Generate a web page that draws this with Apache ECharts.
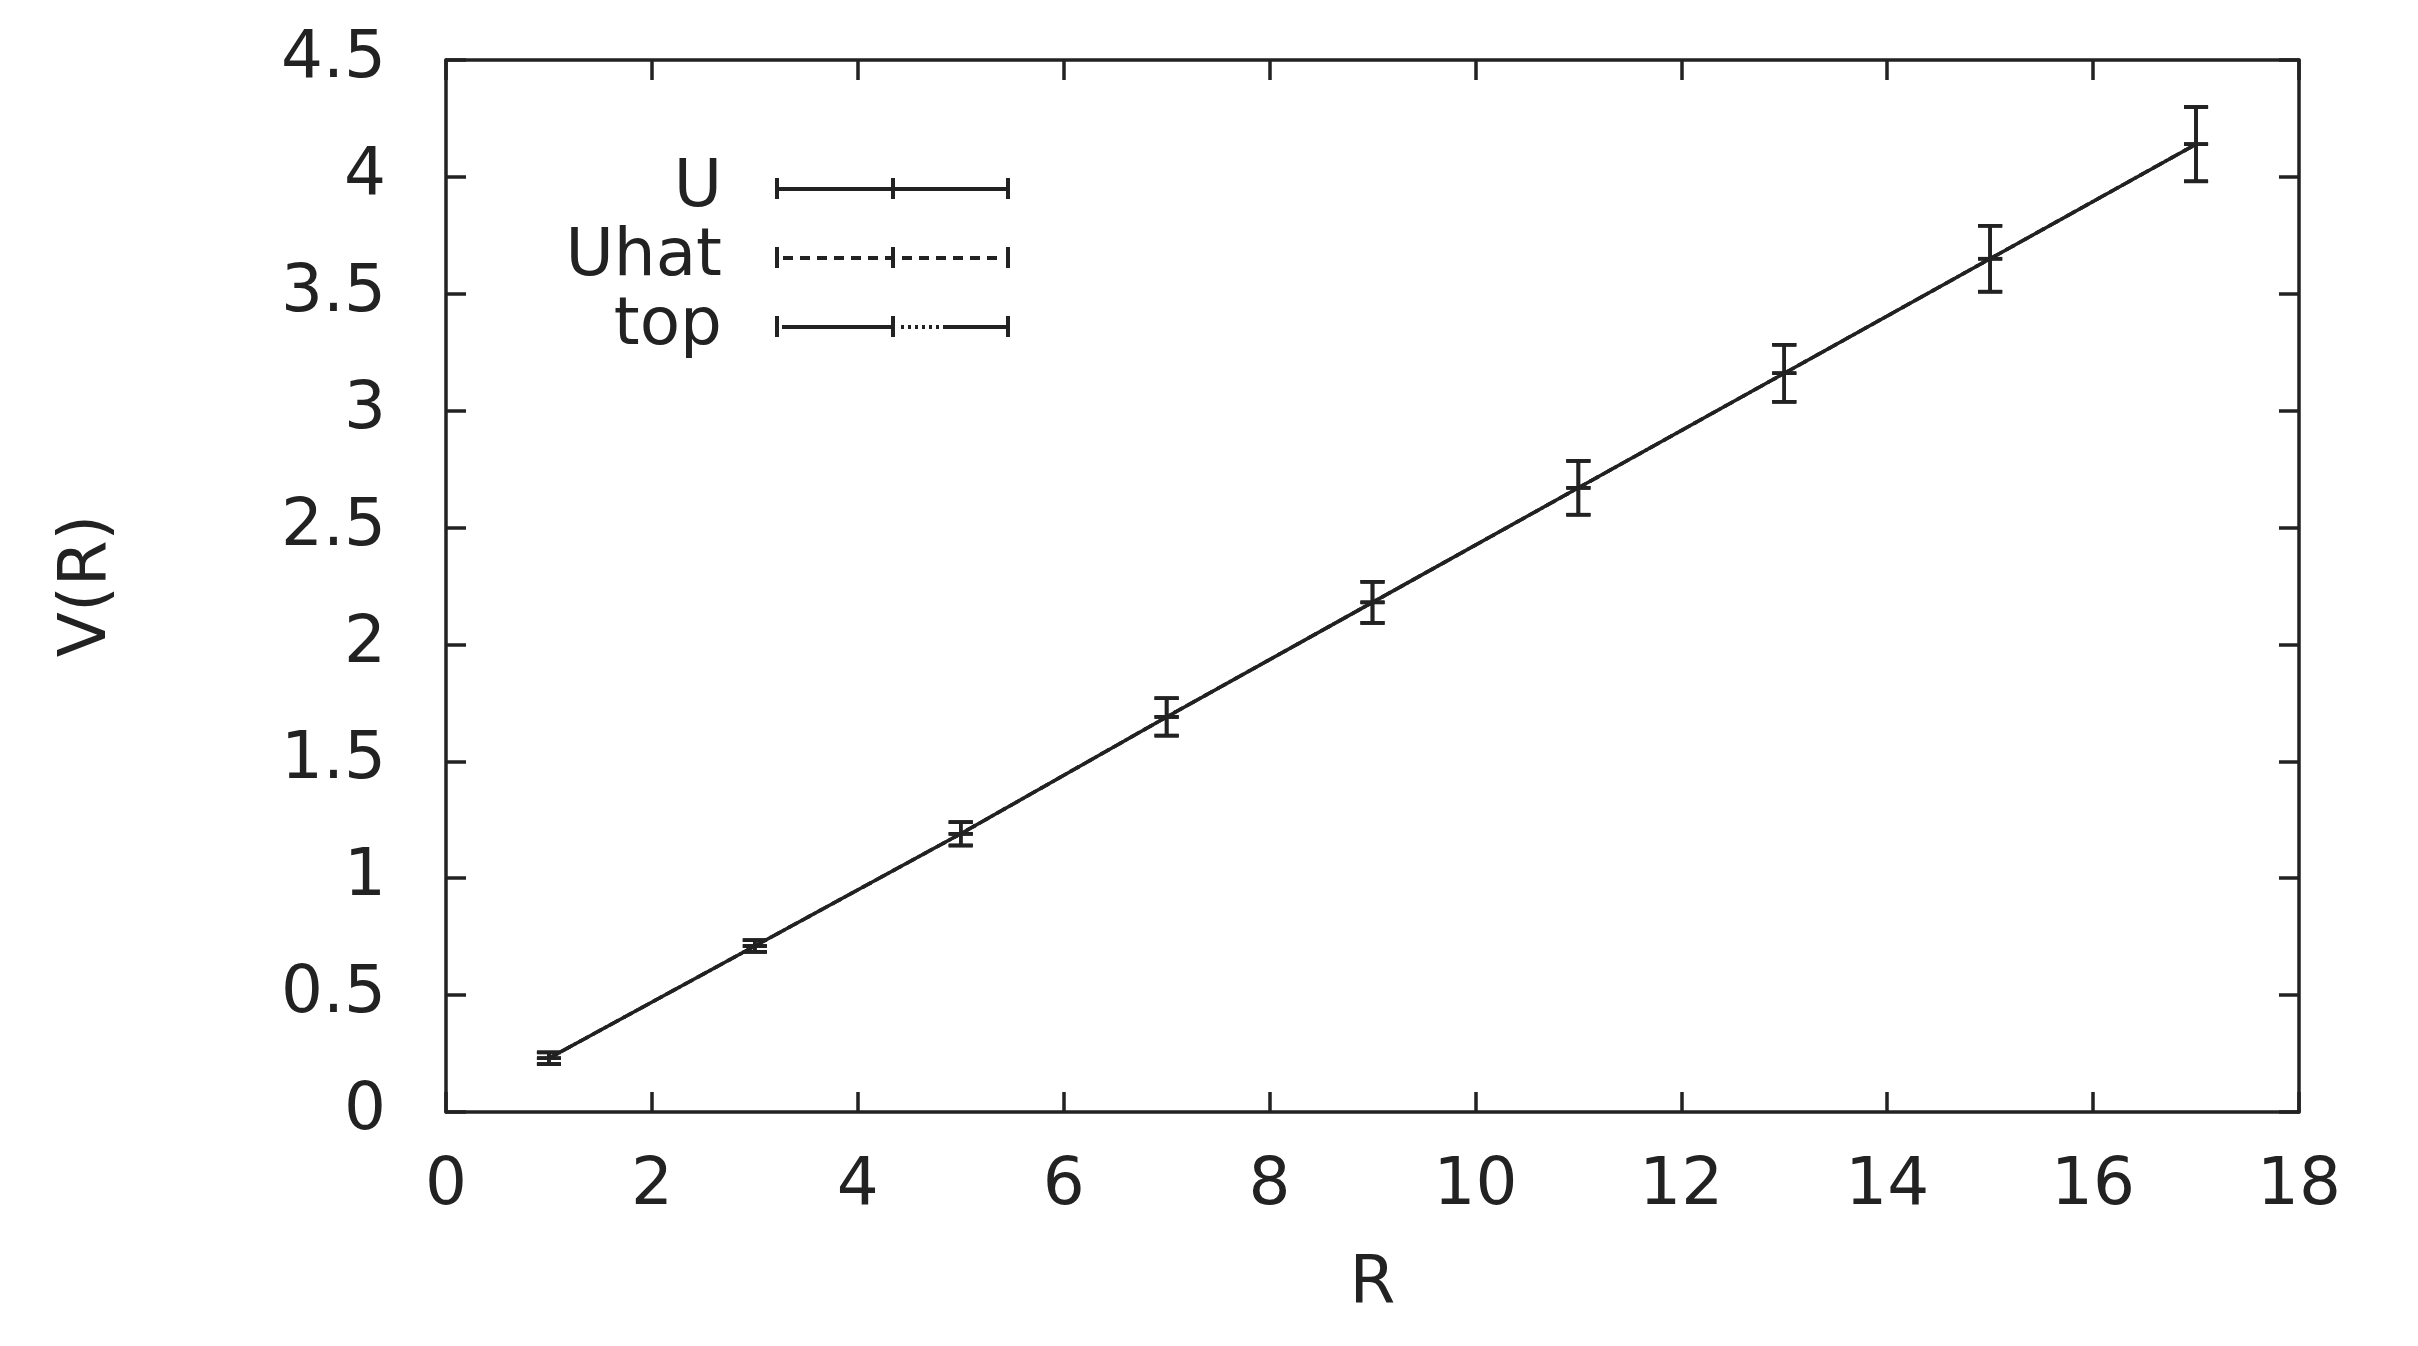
<!DOCTYPE html>
<html>
<head>
<meta charset="utf-8">
<title>V(R)</title>
<script src="https://cdn.jsdelivr.net/npm/echarts@6/dist/echarts.min.js"></script>
<style>
  html, body { margin: 0; padding: 0; background: #fff; }
  #chart { width: 2418px; height: 1346px; }
</style>
</head>
<body>
<div id="chart"></div>
<script>
// Data
const rValues = [1, 3, 5, 7, 9, 11, 13, 15, 17];
const uValues = [0.23, 0.71, 1.19, 1.69, 2.18, 2.67, 3.16, 3.65, 4.14];
const uErrors = [0.025, 0.025, 0.05, 0.08, 0.088, 0.115, 0.122, 0.141, 0.159];
const uhatValues = [0.23, 0.71, 1.19, 1.69, 2.18, 2.67, 3.16, 3.65, 4.14];
const uhatErrors = [0.025, 0.025, 0.05, 0.08, 0.088, 0.115, 0.122, 0.141, 0.159];
const topValues = [0.23, 0.71, 1.19, 1.69, 2.18, 2.67, 3.16, 3.65, 4.14];
const topErrors = [0.025, 0.025, 0.05, 0.08, 0.088, 0.115, 0.122, 0.141, 0.159];
const seriesNames = ['U', 'Uhat', 'top'];

const INK = '#222';
const FONT = '"DejaVu Sans", Verdana, sans-serif';

// gnuplot-like legend samples: |----+----|
const rect = (x, y, w, h) => `M${x} ${y}h${w}v${h}h${-w}Z`;
const caps = rect(0, 0, 4, 21) + rect(116, 0, 4, 21) + rect(231, 0, 4, 21);
let dashPath = '';
for (let x = 8; x < 228; x += 17) dashPath += rect(x, 9, 10, 4);
let dotPath = '';
for (let x = 126; x < 162; x += 7) dotPath += rect(x, 9, 3, 4);
const icons = {
  U: 'path://' + caps + rect(0, 9, 235, 4),
  Uhat: 'path://' + caps + dashPath,
  top: 'path://' + caps + rect(7, 9, 109, 4) + dotPath + rect(168, 9, 67, 4)
};

const pairs = (vals) => rValues.map((r, i) => [r, vals[i]]);
const errData = (vals, errs) => rValues.map((r, i) => [r, vals[i] - errs[i], vals[i] + errs[i], vals[i]]);

function renderErrorBar(params, api) {
  const lo = api.coord([api.value(0), api.value(1)]);
  const hi = api.coord([api.value(0), api.value(2)]);
  const mid = api.coord([api.value(0), api.value(3)]);
  const half = 12;
  const style = { stroke: INK, lineWidth: 3.5, fill: null };
  const seg = (x1, y1, x2, y2) => ({ type: 'line', shape: { x1, y1, x2, y2 }, style });
  return {
    type: 'group',
    children: [
      seg(lo[0], lo[1], hi[0], hi[1]),
      seg(lo[0] - half, lo[1], lo[0] + half, lo[1]),
      seg(hi[0] - half, hi[1], hi[0] + half, hi[1]),
      seg(mid[0] - half, mid[1], mid[0] + half, mid[1])
    ]
  };
}

const lineTypes = { U: 'solid', Uhat: [10, 7], top: [3, 4] };
const valueSets = { U: [uValues, uErrors], Uhat: [uhatValues, uhatErrors], top: [topValues, topErrors] };

const series = [];
seriesNames.forEach((name) => {
  const [vals, errs] = valueSets[name];
  series.push({
    name,
    type: 'line',
    data: pairs(vals),
    showSymbol: false,
    lineStyle: { color: INK, width: 3.5, type: lineTypes[name] },
    itemStyle: { color: INK },
    z: 3
  });
  series.push({
    name: name + ' err',
    type: 'custom',
    data: errData(vals, errs),
    renderItem: renderErrorBar,
    encode: { x: 0, y: [1, 2, 3] },
    z: 4
  });
});

const tickStyle = { inside: true, length: 20, lineStyle: { color: INK, width: 3.5 } };
const axisLine = { show: true, onZero: false, lineStyle: { color: INK, width: 3.5 } };
const labelStyle = { color: INK, fontSize: 66, fontFamily: FONT };

const chart = echarts.init(document.getElementById('chart'));
chart.setOption({
  backgroundColor: '#fff',
  animation: false,
  textStyle: { fontFamily: FONT },
  grid: { left: 446, right: 119, top: 60, bottom: 234 },
  legend: {
    data: seriesNames.map((n) => ({ name: n, icon: icons[n] })),
    orient: 'vertical',
    align: 'right',
    right: 1408,
    top: 154,
    padding: 0,
    itemGap: 0,
    itemWidth: 235,
    itemHeight: 21,
    selectedMode: false,
    itemStyle: { color: INK },
    textStyle: { color: INK, fontSize: 66, fontFamily: FONT, lineHeight: 69, padding: [0, 48, 0, 0] }
  },
  xAxis: [
    {
      type: 'value', min: 0, max: 18, interval: 2,
      name: 'R', nameLocation: 'middle', nameGap: 140,
      nameTextStyle: labelStyle,
      axisLine, axisTick: tickStyle, splitLine: { show: false },
      axisLabel: Object.assign({ margin: 42 }, labelStyle)
    },
    {
      type: 'value', min: 0, max: 18, interval: 2, position: 'top',
      axisLine, axisTick: tickStyle, splitLine: { show: false }, axisLabel: { show: false }
    }
  ],
  yAxis: [
    {
      type: 'value', min: 0, max: 4.5, interval: 0.5,
      name: 'V(R)', nameLocation: 'middle', nameGap: 325, nameRotate: 90,
      nameTextStyle: labelStyle,
      axisLine, axisTick: tickStyle, splitLine: { show: false },
      axisLabel: Object.assign({ margin: 60 }, labelStyle)
    },
    {
      type: 'value', min: 0, max: 4.5, interval: 0.5, position: 'right',
      axisLine, axisTick: tickStyle, splitLine: { show: false }, axisLabel: { show: false }
    }
  ],
  series
});
</script>
</body>
</html>
